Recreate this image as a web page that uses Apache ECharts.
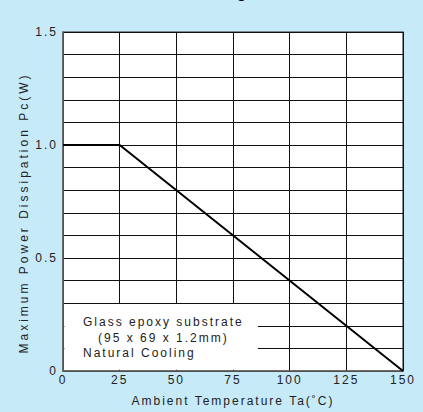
<!DOCTYPE html>
<html>
<head>
<meta charset="utf-8">
<script src="https://cdn.jsdelivr.net/npm/echarts@6/dist/echarts.min.js"></script>
<style>
  html, body { margin: 0; padding: 0; background: #c7eaf9; }
  #chart { width: 423px; height: 412px; }
  #chart text { letter-spacing: 2px; }
</style>
</head>
<body>
<div id="chart"></div>
<script>
// ---- data ----
const chartTitle = 'Derating';
const xAxisTitle = 'Ambient Temperature Ta(\u02DAC)';
const yAxisTitle = 'Maximum Power Dissipation Pc(W)';
const tempC = [0, 25, 150];          // ambient temperature (°C)
const powerW = [1.0, 1.0, 0];        // max power dissipation (W)
const xTicks = [0, 25, 50, 75, 100, 125, 150];
const yTickLabels = ['0', '0.5', '1.0', '1.5'];
const noteLines = ['Glass epoxy substrate', '(95 x 69 x 1.2mm)', 'Natural Cooling'];
const noteBoxX = [0, 86];
const noteBoxY = [0, 0.3];

const font = '"Liberation Sans", Arial, Helvetica, sans-serif';
const chart = echarts.init(document.getElementById('chart'), null, { renderer: 'svg' });

const option = {
  backgroundColor: '#c7eaf9',
  animation: false,
  title: {
    text: chartTitle,
    left: 'center',
    top: -14,
    padding: 0,
    textStyle: { fontFamily: font, fontSize: 14, fontWeight: 'bold', color: '#000' }
  },
  grid: {
    left: 63, right: 20, top: 32, bottom: 40,
    show: true, backgroundColor: '#fff', borderColor: '#666', borderWidth: 1.5
  },
  xAxis: {
    type: 'value',
    min: xTicks[0], max: xTicks[xTicks.length - 1], interval: 25,
    name: xAxisTitle, nameLocation: 'middle', nameGap: 24,
    nameTextStyle: { fontFamily: font, fontSize: 12, color: '#222' },
    axisLine: { show: true, lineStyle: { color: '#666', width: 1.5 } },
    axisTick: { show: false },
    axisLabel: { fontFamily: font, fontSize: 12, color: '#222', margin: 3 },
    splitLine: { show: true, lineStyle: { color: '#111', width: 1 } }
  },
  yAxis: {
    type: 'value',
    min: 0, max: 1.5, interval: 0.5,
    name: yAxisTitle, nameLocation: 'middle', nameGap: 32, nameRotate: 90,
    nameTextStyle: { fontFamily: font, fontSize: 12, color: '#222', padding: [0, 23, 0, 0] },
    axisLine: { show: true, lineStyle: { color: '#666', width: 1.5 } },
    axisTick: { show: false },
    axisLabel: {
      fontFamily: font, fontSize: 12, color: '#222', margin: 5,
      formatter: v => yTickLabels[Math.round(v / 0.5)]
    },
    splitLine: { show: true, lineStyle: { color: '#111', width: 1 } },
    minorTick: { show: false, splitNumber: 5 },
    minorSplitLine: { show: true, lineStyle: { color: '#111', width: 1 } }
  },
  series: [{
    type: 'line',
    data: tempC.map((t, i) => [t, powerW[i]]),
    symbol: 'none',
    lineStyle: { color: '#000', width: 2 },
    z: 3,
    markArea: {
      silent: true,
      itemStyle: { color: '#fff', opacity: 1 },
      data: [[
        { coord: [noteBoxX[0] + 0.6, noteBoxY[0] + 0.006] },
        { coord: [noteBoxX[1], noteBoxY[1] - 0.004] }
      ]]
    }
  }],
  graphic: [
    { type: 'text', z: 100, left: 83, top: 316, style: { text: noteLines[0], font: '12px ' + font, fill: '#222' } },
    { type: 'text', z: 100, left: 98, top: 332, style: { text: noteLines[1], font: '12px ' + font, fill: '#222' } },
    { type: 'text', z: 100, left: 83, top: 347, style: { text: noteLines[2], font: '12px ' + font, fill: '#222' } }
  ]
};
chart.setOption(option);

function spaceYTitle() {
  document.querySelectorAll('#chart text').forEach(t => {
    if (t.textContent === yAxisTitle) t.style.letterSpacing = '3px';
  });
}
chart.on('finished', spaceYTitle);
spaceYTitle();
</script>
</body>
</html>
